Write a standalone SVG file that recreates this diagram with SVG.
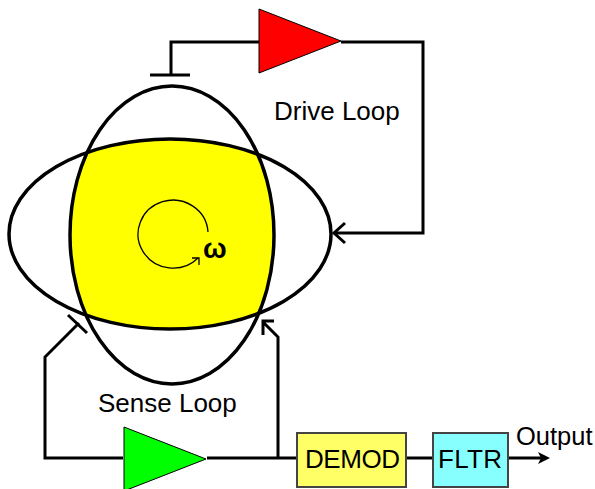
<svg xmlns="http://www.w3.org/2000/svg" width="595" height="489" viewBox="0 0 595 489">
<style>
text{font-family:"Liberation Sans",Arial,sans-serif;fill:#000}
.w{fill:none;stroke:#000;stroke-width:3}
.t{stroke:#000;stroke-width:1}
.b{stroke:#444;stroke-width:2}
.e{fill:none;stroke:#000;stroke-width:3.500}
.l{font-size:26px}
.r{fill:none;stroke:#000;stroke-width:1.300}
</style>
<defs>
<clipPath id="cv"><ellipse cx="172" cy="235" rx="102" ry="149"/></clipPath>
</defs>
<rect width="595" height="489" fill="#fff"/>
<g id="yellow-region"><ellipse cx="170" cy="234" rx="161" ry="95" fill="#ff0" clip-path="url(#cv)"/></g>
<g id="connectors">
<path class="w" d="M123 458H45V357L79 323"/>
<path class="w" d="M68 315L87 333"/>
<path class="w" d="M207 458H297"/>
<path class="w" d="M278 458V337L263 322M263 335V321H274"/>
<path class="w" d="M259 42H171V75"/>
<path class="w" d="M150 75H190"/>
<path class="w" d="M341 42H423V233H335"/>
<path class="w" d="M345 223L334 233L345 243"/>
<path class="w" d="M406 458H434"/>
<path class="w" d="M508 458H543"/>
<path d="M538 452L550 458L538 464L541 458Z" fill="#000"/>
</g>
<g id="vertical-loop"><ellipse class="e" cx="172" cy="235" rx="102" ry="149"/></g>
<g id="horizontal-loop"><ellipse class="e" cx="170" cy="234" rx="161" ry="95"/></g>
<g id="rotation"><path class="r" d="M208 232A35 34 0 1 0 198 258"/><path class="r" d="M192 258H199V265"/><text x="203" y="258" font-size="28" font-weight="bold">ω</text></g>
<g id="drive-amp"><polygon class="t" points="259,9 341,41 259,73" fill="#f00"/></g>
<g id="sense-amp"><polygon class="t" points="124,427 206,459 124,491" fill="#0f0"/></g>
<g id="demod"><rect class="b" x="297" y="433" width="109" height="54" fill="#ff6"/><text class="l" x="305" y="468" textLength="95" lengthAdjust="spacing">DEMOD</text></g>
<g id="fltr"><rect class="b" x="433" y="433" width="75" height="54" fill="#8ff"/><text class="l" x="438" y="468" textLength="64" lengthAdjust="spacing">FLTR</text></g>
<text x="274" y="120" font-size="26">Drive Loop</text>
<text x="98" y="412" font-size="26">Sense Loop</text>
<text x="516" y="445" font-size="25.500">Output</text>
</svg>
